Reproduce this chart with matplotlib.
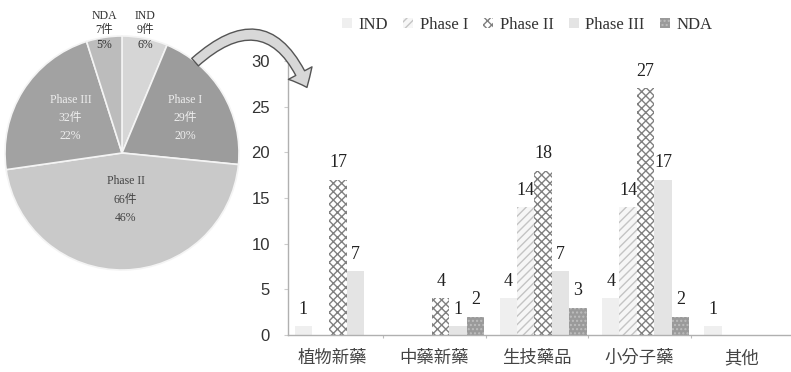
import matplotlib
matplotlib.use("Agg")
import matplotlib.pyplot as plt
import numpy as np
from matplotlib.patches import FancyArrowPatch

# ---- data ----
categories = ["植物新藥", "中藥新藥", "生技藥品", "小分子藥", "其他"]
series = ["IND", "Phase I", "Phase II", "Phase III", "NDA"]
ind = [1, 0, 4, 4, 1]
phase1 = [0, 0, 14, 14, 0]
phase2 = [17, 4, 18, 27, 0]
phase3 = [7, 1, 7, 17, 0]
nda = [0, 2, 3, 2, 0]
values = [ind, phase1, phase2, phase3, nda]

pie_labels = ["IND", "Phase I", "Phase II", "Phase III", "NDA"]
pie_counts = [9, 29, 66, 32, 7]
pie_pcts = [6, 20, 46, 22, 5]
yticks = [0, 5, 10, 15, 20, 25, 30]

SERIF = ["Liberation Serif", "Noto Sans CJK TC"]
CJK = ["Noto Sans CJK TC", "DejaVu Sans"]

W, H = 791, 372
fig = plt.figure(figsize=(W / 100, H / 100), dpi=100)

def fx(px):
    return px / W

def fy(py):
    return 1 - py / H

# ---- pie ----
cx, cy, r = 122, 153, 117
axp = fig.add_axes([fx(cx - r), fy(cy + r), 2 * r / W, 2 * r / H])
pie_colors = ["#d6d6d6", "#9c9c9c", "#c9c9c9", "#a2a2a2", "#bcbcbc"]
axp.pie(pie_counts, colors=pie_colors, startangle=90, counterclock=False,
        wedgeprops=dict(edgecolor="#f4f4f4", linewidth=1.2), radius=1.0)
axp.set_xlim(-1, 1)
axp.set_ylim(-1, 1)
axp.set_aspect("auto")
axp.axis("off")
label_pos = [(0.2, 1.05), (0.54, 0.30), (0.03, -0.40), (-0.44, 0.30), (-0.15, 1.05)]
label_col = ["#333333", "#eeeeee", "#444444", "#eeeeee", "#333333"]
label_ls = [1.27, 1.7, 1.7, 1.7, 1.27]
for lab, c, p, pos, col, ls in zip(pie_labels, pie_counts, pie_pcts, label_pos, label_col, label_ls):
    axp.text(pos[0], pos[1], f"{lab}\n{c}件\n{p}%", ha="center", va="center",
             fontsize=8.5, family=SERIF, color=col, linespacing=ls)

# ---- curved arrow ----
arrow = FancyArrowPatch((fx(193), fy(64)), (fx(308), fy(90)),
                        transform=fig.transFigure,
                        connectionstyle="arc3,rad=-0.72",
                        arrowstyle="simple,head_width=1.6,head_length=0.95,tail_width=0.6",
                        mutation_scale=12, facecolor="#d8d8d8", edgecolor="#555555",
                        linewidth=1.0)
fig.add_artist(arrow)

# ---- bar chart ----
ax = fig.add_axes([fx(288), fy(335), fx(791) - fx(288), fy(61) - fy(335)])
x = np.arange(len(categories))
w = 0.17
styles = [
    dict(facecolor="#efefef", edgecolor="#e4e4e4", hatch=None),
    dict(facecolor="#f6f6f6", edgecolor="#c4c4c4", hatch="////"),
    dict(facecolor="#ffffff", edgecolor="#808080", hatch="xxxx"),
    dict(facecolor="#e4e4e4", edgecolor="#e4e4e4", hatch=None),
    dict(facecolor="#9a9a9a", edgecolor="#bdbdbd", hatch="...."),
]
handles = []
for k, (name, vals, st) in enumerate(zip(series, values, styles)):
    pos = x + (k - 2) * w + 0.06
    bars = ax.bar(pos, vals, width=w, facecolor=st["facecolor"], edgecolor=st["edgecolor"],
                  hatch=st["hatch"], linewidth=0.0, label=name)
    handles.append(bars)
    for b, v in zip(bars, vals):
        if v > 0:
            ax.annotate(str(v), (b.get_x() + b.get_width() / 2, v), xytext=(0, 6),
                        textcoords="offset points", ha="center", va="bottom",
                        fontsize=13, family=SERIF, color="#222222")

ax.set_xlim(-0.43, 4.48)
ax.set_ylim(0, 30)
ax.set_yticks(yticks)
ax.set_yticklabels([str(t) for t in yticks], family=["Liberation Sans"], fontsize=12, color="#333333")
ax.set_xticks(x)
ax.set_xticklabels(categories, family=CJK, fontsize=12.5, color="#444444")
ax.set_xticks(x[:-1] + 0.5, minor=True)
ax.tick_params(axis="x", which="major", length=0, pad=10)
ax.tick_params(axis="x", which="minor", length=2.5, width=0.8, color="#bbbbbb", direction="out")
ax.tick_params(axis="y", length=3, color="#cccccc", direction="out", pad=10)
for s in ["top", "right"]:
    ax.spines[s].set_visible(False)
for s in ["left", "bottom"]:
    ax.spines[s].set_color("#b0b0b0")
    ax.spines[s].set_linewidth(1.0)

fig.legend(handles=handles, labels=series, loc="center", bbox_to_anchor=(fx(527), fy(25)),
           ncol=5, frameon=False, handlelength=0.6, handleheight=0.6, handletextpad=0.4,
           columnspacing=0.9, prop=dict(family=SERIF, size=12), labelcolor="#333333")

fig.savefig("out.png", dpi=100)
